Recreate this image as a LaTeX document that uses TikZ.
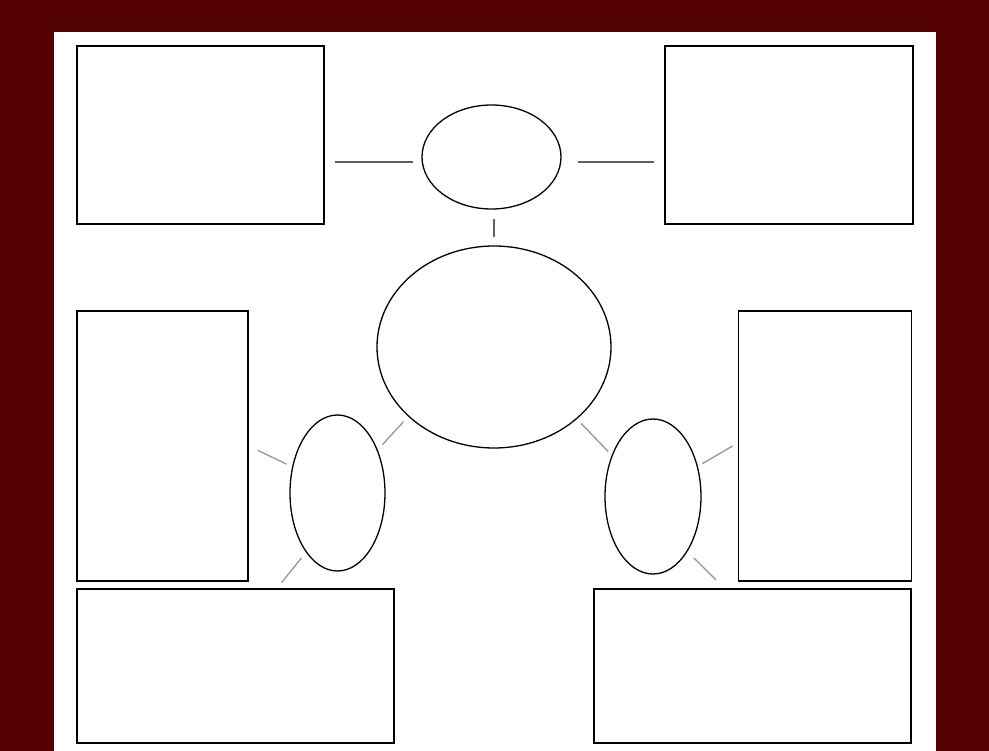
\documentclass[tikz,border=0pt]{standalone}
\usetikzlibrary{shapes.geometric}
\definecolor{frame}{RGB}{82,0,0}
\definecolor{linkdark}{RGB}{95,95,95}
\definecolor{linklight}{RGB}{150,150,150}
\begin{document}
\begin{tikzpicture}[x=1pt,y=-1pt,
  boxnode/.style={draw=black,line width=1.5pt,fill=white,rectangle,inner sep=0pt},
  ovalnode/.style={draw=black,line width=1.3pt,fill=white,ellipse,inner sep=0pt},
  linkdk/.style={draw=linkdark,line width=1.4pt},
  linklt/.style={draw=linklight,line width=1.3pt}]
\useasboundingbox (0,0) rectangle (989,751);
\fill[frame] (0,0) rectangle (989,751);
\fill[white] (54,32) rectangle (936,751);
% boxes
\node[boxnode,minimum width=247pt,minimum height=178pt] (tl) at (200.5,135) {};
\node[boxnode,minimum width=248pt,minimum height=178pt] (tr) at (789,135) {};
\node[boxnode,minimum width=171pt,minimum height=270pt] (lmid) at (162.5,446) {};
\node[boxnode,minimum width=173pt,minimum height=270pt] (rmid) at (825,446) {};
\node[boxnode,minimum width=317pt,minimum height=154pt] (bl) at (235.5,666) {};
\node[boxnode,minimum width=317pt,minimum height=154pt] (br) at (752.5,666) {};
% ellipses
\node[ovalnode,minimum width=139pt,minimum height=104pt] (top) at (491.5,157) {};
\node[ovalnode,minimum width=234pt,minimum height=202pt] (big) at (494,347) {};
\node[ovalnode,minimum width=95pt,minimum height=156pt] (lel) at (337.5,493) {};
\node[ovalnode,minimum width=96pt,minimum height=155pt] (rel) at (653,496.5) {};
% connectors
\draw[linkdk] ([xshift=-8pt,yshift=-5pt]top.west) -- ([xshift=10pt,yshift=-27pt]tl.east);
\draw[linkdk] ([xshift=16pt,yshift=-5pt]top.east) -- ([xshift=-10pt,yshift=-27pt]tr.west);
\draw[linkdk] ([xshift=2.5pt,yshift=-9pt]top.south) -- ([xshift=0pt,yshift=8pt]big.north);
\draw[linklt,shorten <=7pt,shorten >=7pt] (big.219.5) -- (lel.47.7);
\draw[linklt,shorten <=6pt,shorten >=10pt] (lel.150) -- (lmid.east);
\draw[linklt,shorten <=7pt,shorten >=7pt] (lel.242) -- ([xshift=41.5pt]bl.north);
\draw[linklt,shorten <=6pt,shorten >=5pt] (big.319.2) -- (rel.135.6);
\draw[linklt,shorten <=5pt,shorten >=6pt] (rel.34.8) -- ([yshift=3pt]rmid.west);
\draw[linklt,shorten <=9pt,shorten >=12pt] (rel.302.2) -- ([xshift=-28pt]br.north);
\end{tikzpicture}
\end{document}
